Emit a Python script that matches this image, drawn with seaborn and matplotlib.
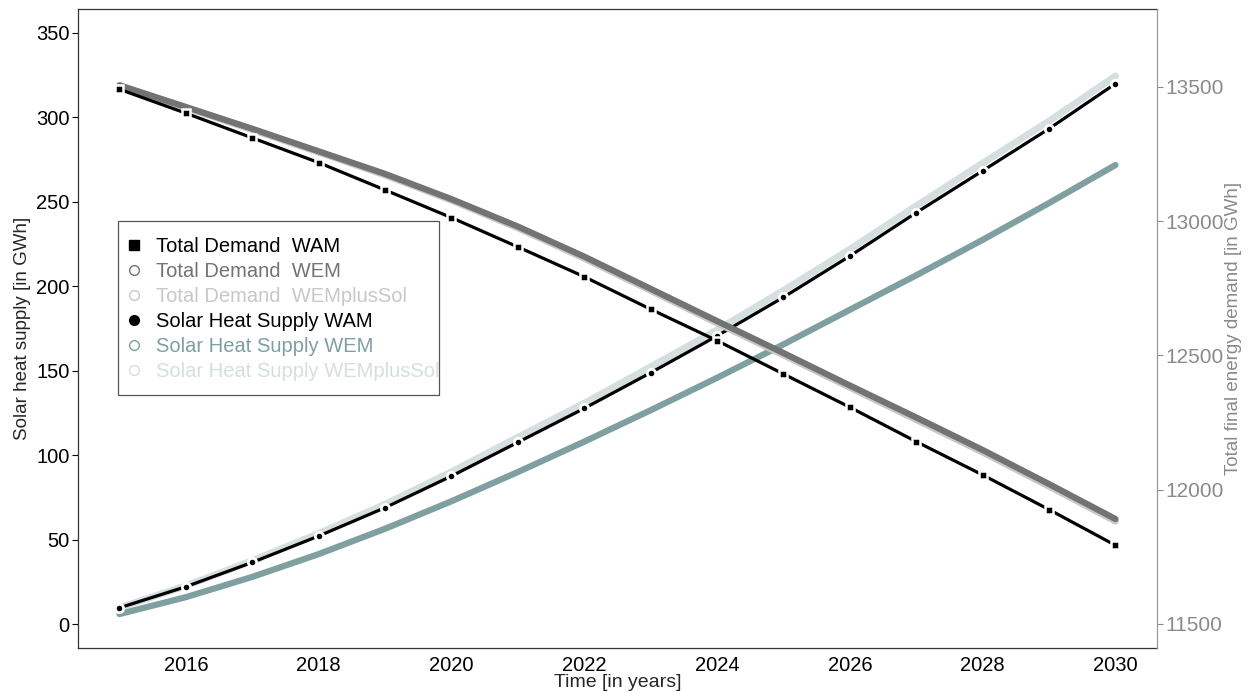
import seaborn as sns
import matplotlib.pyplot as plt
from matplotlib.lines import Line2D
from matplotlib.patches import Rectangle

# data
years = list(range(2015, 2031))

solar_wam = [9.6, 22.1, 36.5, 52.1, 68.9, 87.6, 107.6, 127.7, 148.8, 170.6,
             193.5, 217.9, 243.6, 268.4, 293.3, 320.0]
solar_wem = [5.9, 15.9, 27.9, 41.4, 56.4, 72.7, 90.0, 108.0, 126.6, 145.8,
             165.6, 186.1, 206.5, 227.5, 249.3, 271.8]
solar_wemplussol = [9.6, 22.6, 37.5, 53.6, 70.9, 90.1, 110.6, 130.7, 152.3, 174.1,
                    197.5, 221.9, 247.6, 272.9, 297.8, 324.5]

demand_wam = [13491, 13402, 13310, 13218, 13116, 13013, 12904, 12793, 12672, 12555,
              12431, 12307, 12179, 12055, 11926, 11793]
demand_wem = [13506, 13425, 13344, 13260, 13176, 13082, 12980, 12868, 12748, 12628,
              12509, 12388, 12269, 12148, 12021, 11891]
demand_wemplussol = [13504, 13423, 13341, 13257, 13172, 13078, 12975, 12862, 12742, 12621,
                     12502, 12381, 12261, 12140, 12013, 11883]

labels = ["Total Demand  WAM", "Total Demand  WEM", "Total Demand  WEMplusSol",
          "Solar Heat Supply WAM", "Solar Heat Supply WEM", "Solar Heat Supply WEMplusSol"]
colors = ["#000000", "#737373", "#c8c8c8", "#000000", "#7f9fa0", "#d5dfdf"]

sns.set_style("white")
plt.rcParams['font.family'] = ['Liberation Sans', 'DejaVu Sans']

fig, ax1 = plt.subplots(figsize=(12.54, 6.92), dpi=100)
fig.subplots_adjust(left=0.0622, right=0.9226, bottom=0.0636, top=0.987)
ax2 = ax1.twinx()

# solar heat supply on the left axis
sns.lineplot(x=years, y=solar_wemplussol, ax=ax1, color=colors[5], lw=5)
sns.lineplot(x=years, y=solar_wem, ax=ax1, color=colors[4], lw=4.5)
sns.lineplot(x=years, y=solar_wam, ax=ax1, color=colors[3], lw=2.3,
             marker='o', markersize=6, markerfacecolor='black',
             markeredgecolor='white', markeredgewidth=2)

# total demand on the right axis
sns.lineplot(x=years, y=demand_wemplussol, ax=ax2, color=colors[2], lw=5)
sns.lineplot(x=years, y=demand_wem, ax=ax2, color=colors[1], lw=4.5)
sns.lineplot(x=years, y=demand_wam, ax=ax2, color=colors[0], lw=2.3,
             marker='s', markersize=5.5, markerfacecolor='black',
             markeredgecolor='white', markeredgewidth=1.8)

ax1.set_xlim(2014.375, 2030.625)
ax1.set_ylim(-14.2, 364.2)
ax2.set_ylim(11410.6, 13790)
ax1.set_xticks(range(2016, 2031, 2))
ax1.set_yticks(range(0, 351, 50))
ax2.set_yticks(range(11500, 13501, 500))

ax1.tick_params(axis='both', direction='out', length=4, width=0.8, colors='black',
                labelsize=14.5, pad=2)
ax2.tick_params(axis='y', direction='out', length=4, width=0.8, colors='#8a8a8a',
                labelcolor='#8a8a8a', labelsize=15, pad=2)

ax1.set_xlabel("Time [in years]", fontsize=14, labelpad=-1)
ax1.set_ylabel("Solar heat supply [in GWh]", fontsize=13.5, labelpad=4)
ax2.set_ylabel("Total final energy demand [in GWh]", fontsize=13.5, color='#8a8a8a', labelpad=1)

for sp in ['left', 'bottom', 'top']:
    ax1.spines[sp].set_color('#333333')
    ax1.spines[sp].set_linewidth(0.9)
ax1.spines['right'].set_visible(False)
for sp in ['left', 'bottom', 'top']:
    ax2.spines[sp].set_visible(False)
ax2.spines['right'].set_color('#999999')
ax2.spines['right'].set_linewidth(0.9)

markers = ['s', 'o', 'o', 'o', 'o', 'o']
filled = [True, False, False, True, False, False]
handles = []
for lab, c, m, f in zip(labels, colors, markers, filled):
    handles.append(Line2D([], [], linestyle='none', marker=m, markersize=7,
                          markerfacecolor=c if f else 'white', markeredgecolor=c,
                          markeredgewidth=1.0, label=lab))

# legend box drawn separately, the text nearly touches its right edge
box = Rectangle((0.0371, 0.3959), 0.2975, 0.2723, transform=ax2.transAxes,
                facecolor='white', edgecolor='#555555', linewidth=0.9, zorder=5)
ax2.add_patch(box)
leg = ax2.legend(handles=handles, loc='upper left', bbox_to_anchor=(0.037, 0.668),
                 borderaxespad=0, frameon=False, fontsize=14.5,
                 labelcolor=colors, handletextpad=1.1, handlelength=0.01,
                 labelspacing=0.3, borderpad=0.8)
leg.set_zorder(6)

fig.savefig("out.png", dpi=100)
